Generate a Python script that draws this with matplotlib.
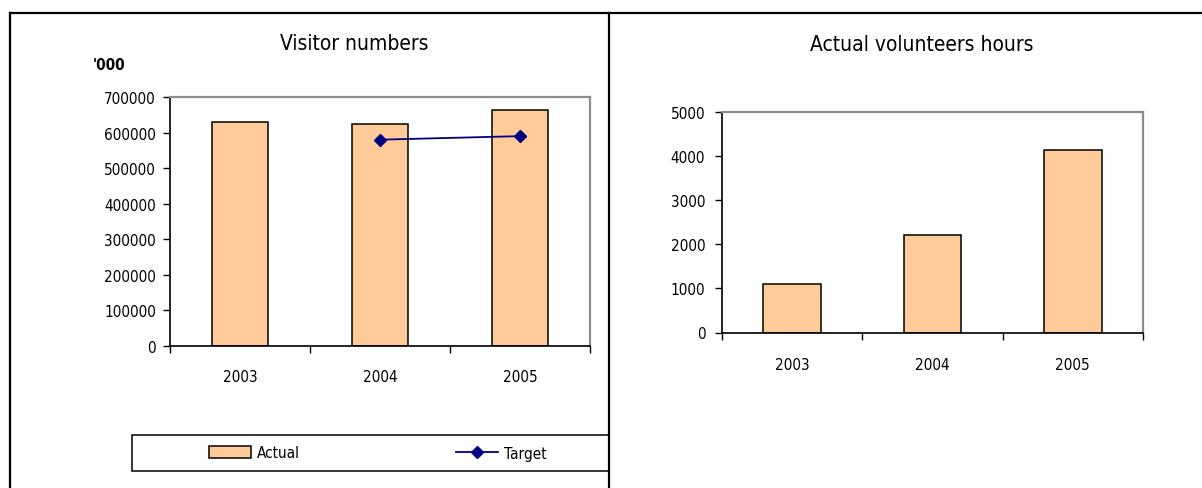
import matplotlib
matplotlib.use("Agg")
import matplotlib.pyplot as plt
from matplotlib import font_manager
from matplotlib.lines import Line2D
from matplotlib.patches import Rectangle

# ---- data ----
years = ["2003", "2004", "2005"]
visitors_actual = [630000, 625000, 663000]
visitors_target = [None, 580000, 590000]
volunteer_hours = [1110, 2210, 4130]
visitor_ticks = [0, 100000, 200000, 300000, 400000, 500000, 600000, 700000]
hour_ticks = [0, 1000, 2000, 3000, 4000, 5000]

# ---- fonts ----
names = {f.name for f in font_manager.fontManager.ttflist}
if "Liberation Sans Narrow" in names:
    plt.rcParams["font.family"] = ["Liberation Sans Narrow", "DejaVu Sans"]
else:
    plt.rcParams["font.family"] = ["DejaVu Sans"]
    plt.rcParams["font.stretch"] = "condensed"

BAR_FILL = "#FFCC99"
TARGET = "#000080"
W, H = 1202, 489
TICK_FS = 11

fig = plt.figure(figsize=(W / 100, H / 100), dpi=100)


def px_axes(x0, y0, x1, y1):
    return fig.add_axes([x0 / W, 1 - y1 / H, (x1 - x0) / W, (y1 - y0) / H])


def style_axes(ax, ymax, ticks):
    n = len(years)
    ax.set_xlim(-0.5, n - 0.5)
    ax.set_ylim(0, ymax)
    ax.set_yticks(ticks)
    ax.set_yticklabels([str(t) for t in ticks])
    ax.set_xticks([i - 0.5 for i in range(n + 1)])
    ax.set_xticklabels([])
    ax.set_xticks(range(n), minor=True)
    ax.set_xticklabels(years, minor=True)
    ax.tick_params(axis="x", which="major", direction="out", length=5, width=1, color="black")
    ax.tick_params(axis="x", which="minor", length=0, pad=16.5, labelsize=TICK_FS)
    ax.tick_params(axis="y", direction="out", length=5, width=1, pad=5, labelsize=TICK_FS)
    for side in ("left", "bottom"):
        ax.spines[side].set_color("black")
        ax.spines[side].set_linewidth(1.2)
    for side in ("top", "right"):
        ax.spines[side].set_color("#8c8c8c")
        ax.spines[side].set_linewidth(1.6)


# ---- left: visitor numbers ----
ax1 = px_axes(170, 98, 590, 347)
x = range(len(years))
ax1.bar(x, visitors_actual, width=0.4, color=BAR_FILL, edgecolor="black",
        linewidth=1.1, zorder=2, label="Actual")
tx = [i for i, v in enumerate(visitors_target) if v is not None]
ty = [v for v in visitors_target if v is not None]
ax1.plot(tx, ty, color=TARGET, linewidth=1.3, marker="D", markersize=6.5,
         markerfacecolor=TARGET, markeredgecolor=TARGET, zorder=3, label="Target")
style_axes(ax1, 700000, visitor_ticks)

fig.text(354 / W, 1 - 44 / H, "Visitor numbers", ha="center", va="center", fontsize=15)
fig.text(93 / W, 1 - 66 / H, "'000", ha="left", va="center", fontsize=11, fontweight="bold")

# legend box and entries
box = Rectangle((132 / W, 1 - 472 / H), (609 - 132) / W, 36 / H,
                transform=fig.transFigure, fill=False, edgecolor="black", linewidth=1.1)
fig.add_artist(box)
handles = [Rectangle((0, 0), 1, 1, facecolor=BAR_FILL, edgecolor="black", linewidth=1.1),
           Line2D([], [], color=TARGET, linewidth=1.3, marker="D", markersize=6.5,
                  markerfacecolor=TARGET, markeredgecolor=TARGET)]
fig.legend(handles, ["Actual", "Target"], ncol=2, frameon=False, fontsize=TICK_FS,
           loc="center left", bbox_to_anchor=(209 / W, 1 - 454 / H),
           borderaxespad=0, borderpad=0, handlelength=2.75, handletextpad=0.4,
           columnspacing=10.2, handleheight=0.8)

# ---- right: volunteer hours ----
ax2 = px_axes(722, 113, 1143, 333.5)
ax2.bar(x, volunteer_hours, width=0.41, color=BAR_FILL, edgecolor="black",
        linewidth=1.1, zorder=2)
style_axes(ax2, 5000, hour_ticks)
ax2.tick_params(axis="x", which="minor", pad=17.5)
ax2.tick_params(axis="y", pad=7)
fig.text(922 / W, 1 - 45 / H, "Actual volunteers hours", ha="center", va="center", fontsize=15)

# ---- page frame ----
for xs, ys in [((10, W), (14, 14)), ((10, 10), (14, H)), ((609, 609), (14, H))]:
    fig.add_artist(Line2D([v / W for v in xs], [1 - v / H for v in ys],
                          transform=fig.transFigure, color="black", linewidth=1.6))

fig.savefig("out.png", dpi=100)
